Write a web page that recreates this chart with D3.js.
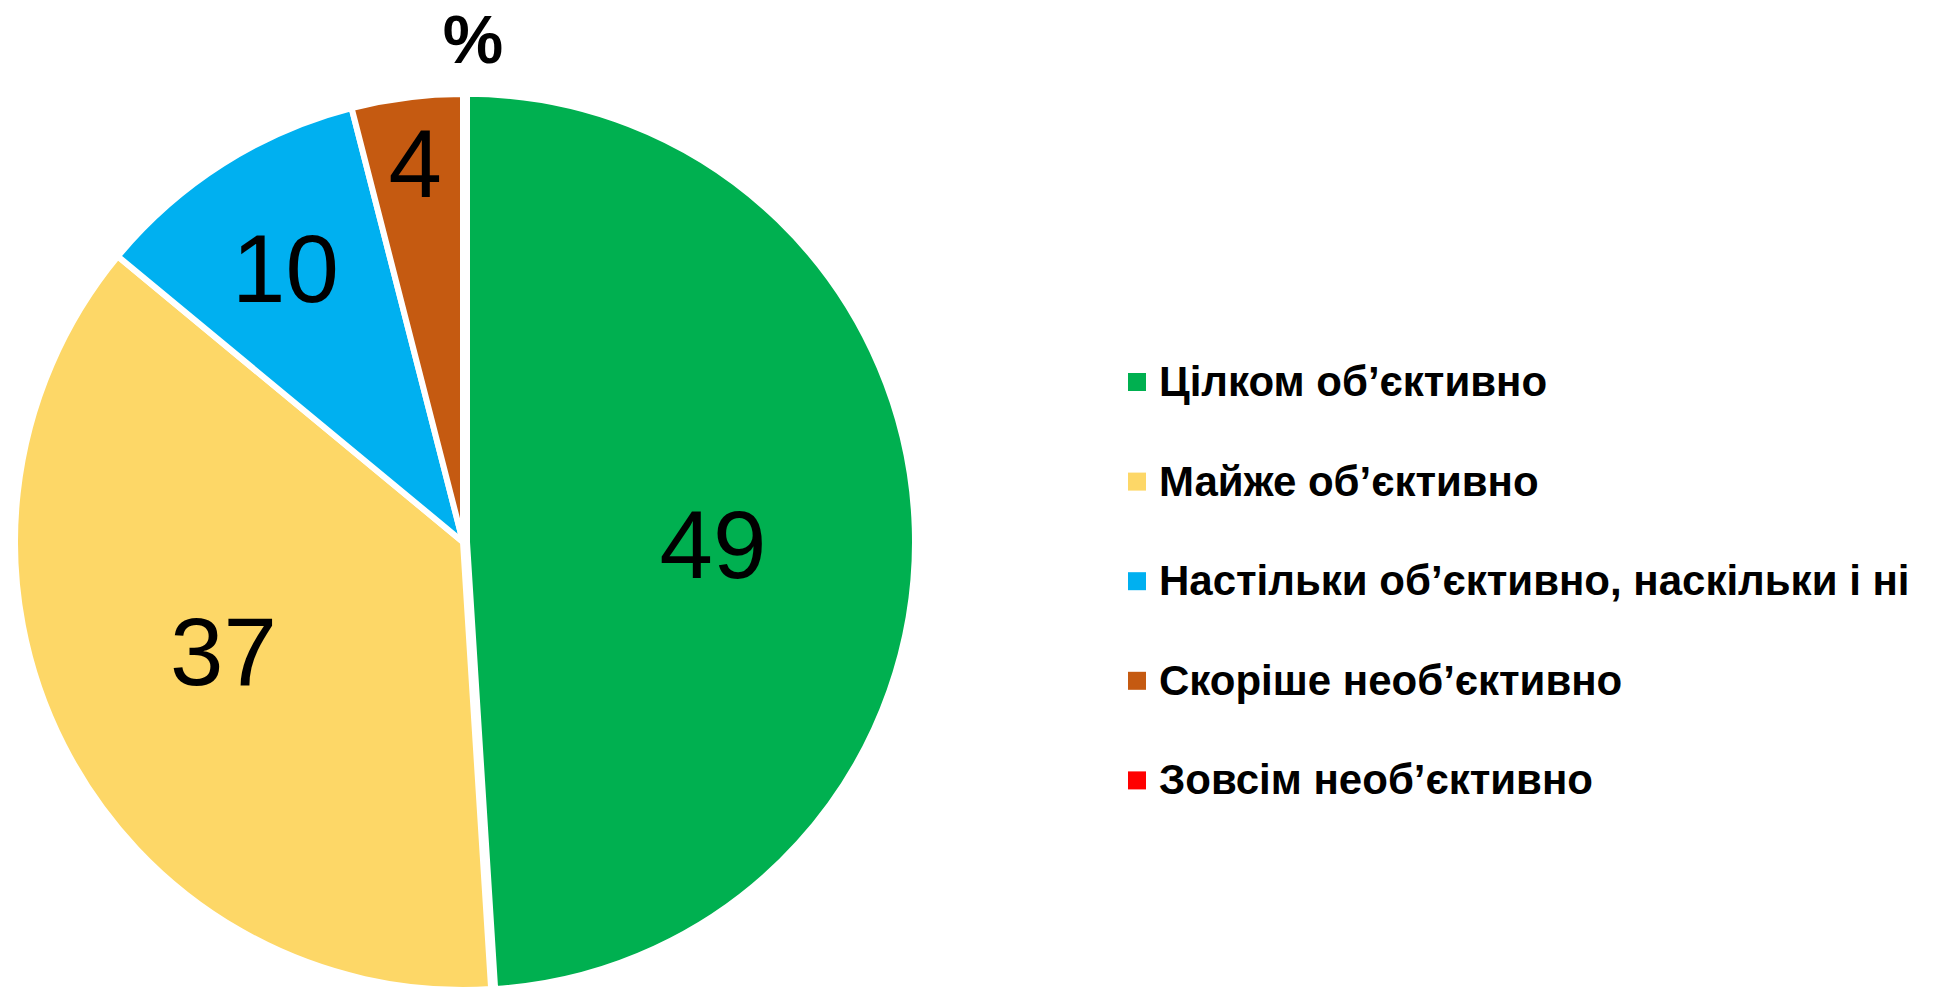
<!DOCTYPE html>
<html>
<head>
<meta charset="utf-8">
<script src="https://cdn.jsdelivr.net/npm/d3@7"></script>
<style>
  html, body { margin: 0; padding: 0; background: #fff; }
  svg { display: block; font-family: Arial, "Liberation Sans", sans-serif; }
</style>
</head>
<body>
<div id="pie_chart"></div>
<script>
// chart data
var categories = ["Цілком об’єктивно", "Майже об’єктивно", "Настільки об’єктивно, наскільки і ні",
                  "Скоріше необ’єктивно", "Зовсім необ’єктивно"];
var values = [49, 37, 10, 4, 0];
var colors = ["#00B050", "#FDD767", "#00B0F0", "#C55A11", "#FF0000"];
var unitLabel = "%";

plot_pie_chart("#pie_chart", 1945, 992);

function plot_pie_chart (htmlObjectId, width, height) {

    var cx = 463, cy = 542, radius = 448;
    // label distance from centre and small angle tweak (degrees), per slice, like Excel best fit
    var labelRadius = [246, 263, 327, 382, 300];
    var labelTurn = [2.2, 2.6, -0.5, 0, 0];
    var explode = [4, 0, 0, 0, 0];

    var rows = categories.map(function(c, i) { return {name: c, value: values[i], color: colors[i], i: i}; });

    var canvas = d3.select(htmlObjectId)
                    .append("svg")
                    .attr("width", width)
                    .attr("height", height);

    var pie = d3.pie().sort(null).value(function(d) { return d.value; });
    var arc = d3.arc().innerRadius(0).outerRadius(radius);
    var arcs = pie(rows).filter(function(d) { return d.value > 0; });

    function offset(d, r, turn) {
        var a = (d.startAngle + d.endAngle) / 2 + (turn || 0) * Math.PI / 180;
        return [Math.sin(a) * r, -Math.cos(a) * r];
    }

    var g = canvas.append("g").attr("transform", "translate(" + cx + "," + cy + ")");

    g.selectAll("path.slice")
        .data(arcs)
      .enter().append("path")
        .attr("class", "slice")
        .attr("d", arc)
        .attr("transform", function(d) {
            var o = offset(d, explode[d.data.i]);
            return "translate(" + o[0] + "," + o[1] + ")";
        })
        .attr("fill", function(d) { return d.data.color; })
        .attr("stroke", "#fff")
        .attr("stroke-width", 6);

    g.selectAll("text.val")
        .data(arcs)
      .enter().append("text")
        .attr("class", "val")
        .attr("x", function(d) { return offset(d, labelRadius[d.data.i], labelTurn[d.data.i])[0] + offset(d, explode[d.data.i])[0]; })
        .attr("y", function(d) { return offset(d, labelRadius[d.data.i], labelTurn[d.data.i])[1] + offset(d, explode[d.data.i])[1]; })
        .attr("dy", "0.358em")
        .attr("text-anchor", "middle")
        .style("font-size", "96px")
        .attr("fill", "#000")
        .text(function(d) { return d.value; });

    // "%" title above the pie
    canvas.append("text")
        .attr("x", 473)
        .attr("y", 63)
        .attr("text-anchor", "middle")
        .style("font-size", "68px")
        .style("font-weight", "bold")
        .text(unitLabel);

    // legend
    var legend = canvas.append("g").attr("transform", "translate(1128,373)");
    var item = legend.selectAll("g.item")
        .data(rows)
      .enter().append("g")
        .attr("class", "item")
        .attr("transform", function(d, i) { return "translate(0," + (i * 99.6) + ")"; });

    item.append("rect")
        .attr("width", 18)
        .attr("height", 18)
        .attr("fill", function(d) { return d.color; });

    item.append("text")
        .attr("x", 31)
        .attr("y", 23)
        .style("font-size", "42px")
        .style("font-weight", "bold")
        .text(function(d) { return d.name; });
}
</script>
</body>
</html>
